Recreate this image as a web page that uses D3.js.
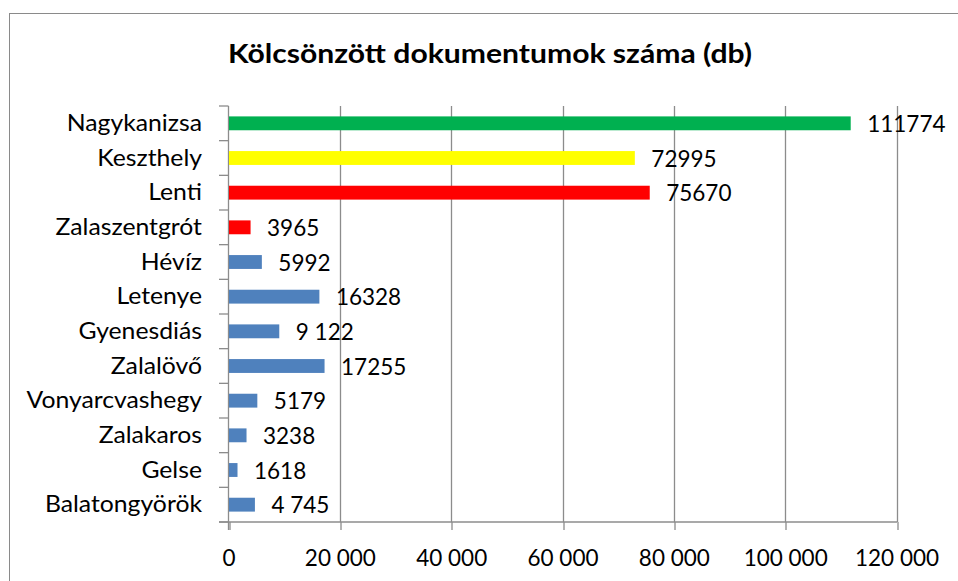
<!DOCTYPE html>
<html>
<head>
<meta charset="utf-8">
<script src="https://cdn.jsdelivr.net/npm/d3@7"></script>
<style>
  html, body { margin: 0; padding: 0; background: #fff; }
  svg { display: block; }
  text { font-family: Lato, "Open Sans", sans-serif; fill: #000; }
</style>
</head>
<body>
<svg id="chart" width="958" height="581"></svg>
<script>
const title = "Kölcsönzött dokumentumok száma (db)";
const categories = ["Nagykanizsa","Keszthely","Lenti","Zalaszentgrót","Hévíz","Letenye","Gyenesdiás","Zalalövő","Vonyarcvashegy","Zalakaros","Gelse","Balatongyörök"];
const values = [111774,72995,75670,3965,5992,16328,9122,17255,5179,3238,1618,4745];
const valueLabels = ["111774","72995","75670","3965","5992","16328","9 122","17255","5179","3238","1618","4 745"];
const barColors = ["#00B050","#FFFF00","#FF0000","#FF0000","#4F81BD","#4F81BD","#4F81BD","#4F81BD","#4F81BD","#4F81BD","#4F81BD","#4F81BD"];
const xTicks = [0,20000,40000,60000,80000,100000,120000];

const svg = d3.select("#chart");
const plot = {left: 228.5, right: 896.5, top: 106, bottom: 522};
const gridColor = "#8c8c8c";

// chart border
svg.append("rect").attr("x", 9.5).attr("y", 13.5).attr("width", 1000).attr("height", 1000)
  .attr("fill", "none").attr("stroke", "#8a8a8a").attr("stroke-width", 1);

const x = d3.scaleLinear().domain([0, 120000]).range([plot.left, plot.right]);
const y = d3.scaleBand().domain(categories).range([plot.top, plot.bottom]).paddingInner(0.6).paddingOuter(0.3);

// vertical gridlines
svg.append("g").selectAll("line").data(xTicks.slice(1)).join("line")
  .attr("x1", d => Math.round(x(d)) + 0.5).attr("x2", d => Math.round(x(d)) + 0.5)
  .attr("y1", plot.top).attr("y2", plot.bottom)
  .attr("stroke", gridColor).attr("stroke-width", 1.3);

// x axis
const fmt = d => d3.format(",")(d).replace(/,/g, " ");
const xAxis = svg.append("g").attr("transform", `translate(0,${plot.bottom})`)
  .call(d3.axisBottom(x).tickValues(xTicks).tickSize(8).tickSizeOuter(0).tickPadding(20).tickFormat(fmt));
xAxis.select(".domain").remove();
xAxis.selectAll(".tick line").attr("stroke", gridColor).attr("stroke-width", 1.3)
  .attr("transform", d => `translate(${Math.round(x(d)) + 0.5 - x(d)},0)`);
xAxis.selectAll(".tick text").attr("font-size", "22.5px").attr("font-family", "Lato").attr("fill", "#000")
  .attr("dy", null).attr("y", 44);
xAxis.append("line").attr("x1", 219).attr("x2", plot.right + 0.5).attr("y1", 0).attr("y2", 0)
  .attr("stroke", gridColor).attr("stroke-width", 1.3);

// y axis line and ticks
const step = y.step();
const boundaries = categories.map(c => y(c) - (step - y.bandwidth()) / 2).concat([plot.bottom]);
svg.append("line").attr("x1", x(0)).attr("x2", x(0)).attr("y1", plot.top).attr("y2", plot.bottom + 8)
  .attr("stroke", gridColor).attr("stroke-width", 1.3);
svg.append("g").selectAll("line").data(boundaries).join("line")
  .attr("x1", 219).attr("x2", x(0)).attr("y1", d => d).attr("y2", d => d)
  .attr("stroke", gridColor).attr("stroke-width", 1.3);

// bars
svg.append("g").selectAll("rect").data(values).join("rect")
  .attr("x", x(0) + 0.5)
  .attr("y", (d, i) => y(categories[i]))
  .attr("width", d => x(d) - x(0) - 0.5)
  .attr("height", y.bandwidth())
  .attr("fill", (d, i) => barColors[i]);

// category labels (slightly widened glyphs)
svg.append("g").selectAll("text").data(categories).join("text")
  .attr("transform", d => `translate(202,${y(d) + y.bandwidth() / 2 + 7.5}) scale(1.1,1)`)
  .attr("text-anchor", "end").attr("font-size", "22.5px").text(d => d);

// value labels
svg.append("g").selectAll("text").data(values).join("text")
  .attr("x", d => x(d) + 16.5)
  .attr("y", (d, i) => y(categories[i]) + y.bandwidth() / 2 + 8.5)
  .attr("font-size", "22.5px").text((d, i) => valueLabels[i]);

// title
svg.append("text").attr("x", 490).attr("y", 63).attr("text-anchor", "middle")
  .attr("font-size", "26px").attr("font-weight", "bold")
  .attr("textLength", 524).attr("lengthAdjust", "spacingAndGlyphs").text(title);
</script>
</body>
</html>
